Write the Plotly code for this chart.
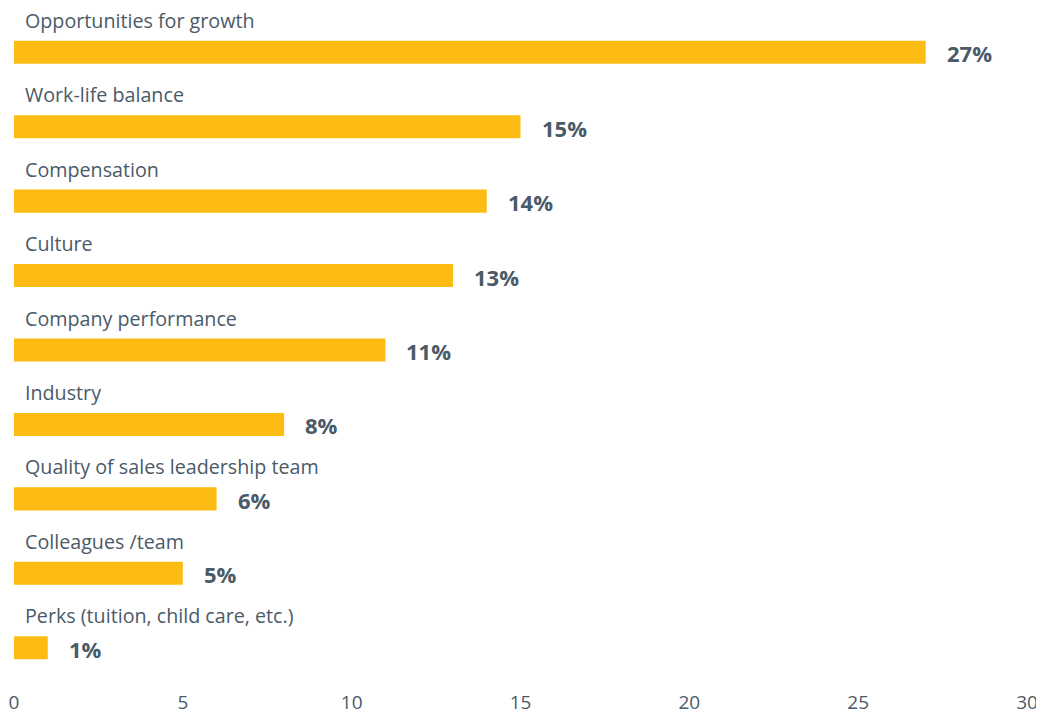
import plotly.graph_objects as go

categories = [
    "Opportunities for growth",
    "Work-life balance",
    "Compensation",
    "Culture",
    "Company performance",
    "Industry",
    "Quality of sales leadership team",
    "Colleagues /team",
    "Perks (tuition, child care, etc.)",
]
values = [27, 15, 14, 13, 11, 8, 6, 5, 1]
value_labels = ["27%", "15%", "14%", "13%", "11%", "8%", "6%", "5%", "1%"]
tick_vals = [0, 5, 10, 15, 20, 25, 30]

bar_color = "#FDBC13"
text_color = "#4A5A68"

fig = go.Figure()
fig.add_trace(go.Bar(
    x=values,
    y=list(range(len(categories))),
    orientation="h",
    width=0.31,
    marker=dict(color=bar_color, line=dict(width=0)),
    hoverinfo="skip",
))

annotations = []
for i, (cat, v, lab) in enumerate(zip(categories, values, value_labels)):
    annotations.append(dict(
        x=0, y=i, xref="x", yref="y", text=cat, showarrow=False,
        xanchor="left", yanchor="middle", xshift=9, yshift=32,
        font=dict(family="Open Sans", size=19.7, color=text_color),
    ))
    annotations.append(dict(
        x=v, y=i, xref="x", yref="y", text="<b>" + lab + "</b>", showarrow=False,
        xanchor="left", yanchor="middle", xshift=19, yshift=-1,
        font=dict(family="Open Sans", size=22, color=text_color),
    ))

# the page body has an 8px margin, so the figure is drawn at (8, 8)
fig.update_layout(
    width=1036, height=702,
    margin=dict(l=6, r=17, t=7, b=25, autoexpand=False),
    paper_bgcolor="white", plot_bgcolor="white",
    showlegend=False,
    annotations=annotations,
    xaxis=dict(range=[0, 30], tickvals=tick_vals, showgrid=False, zeroline=False, automargin=False,
               showline=False, ticks="", ticklabelstandoff=4,
               tickfont=dict(family="Open Sans", size=19, color=text_color)),
    yaxis=dict(range=[len(categories) - 0.5, -0.5], showticklabels=False, showgrid=False,
               automargin=False, zeroline=False, showline=False),
)

fig.write_html("out.html")
